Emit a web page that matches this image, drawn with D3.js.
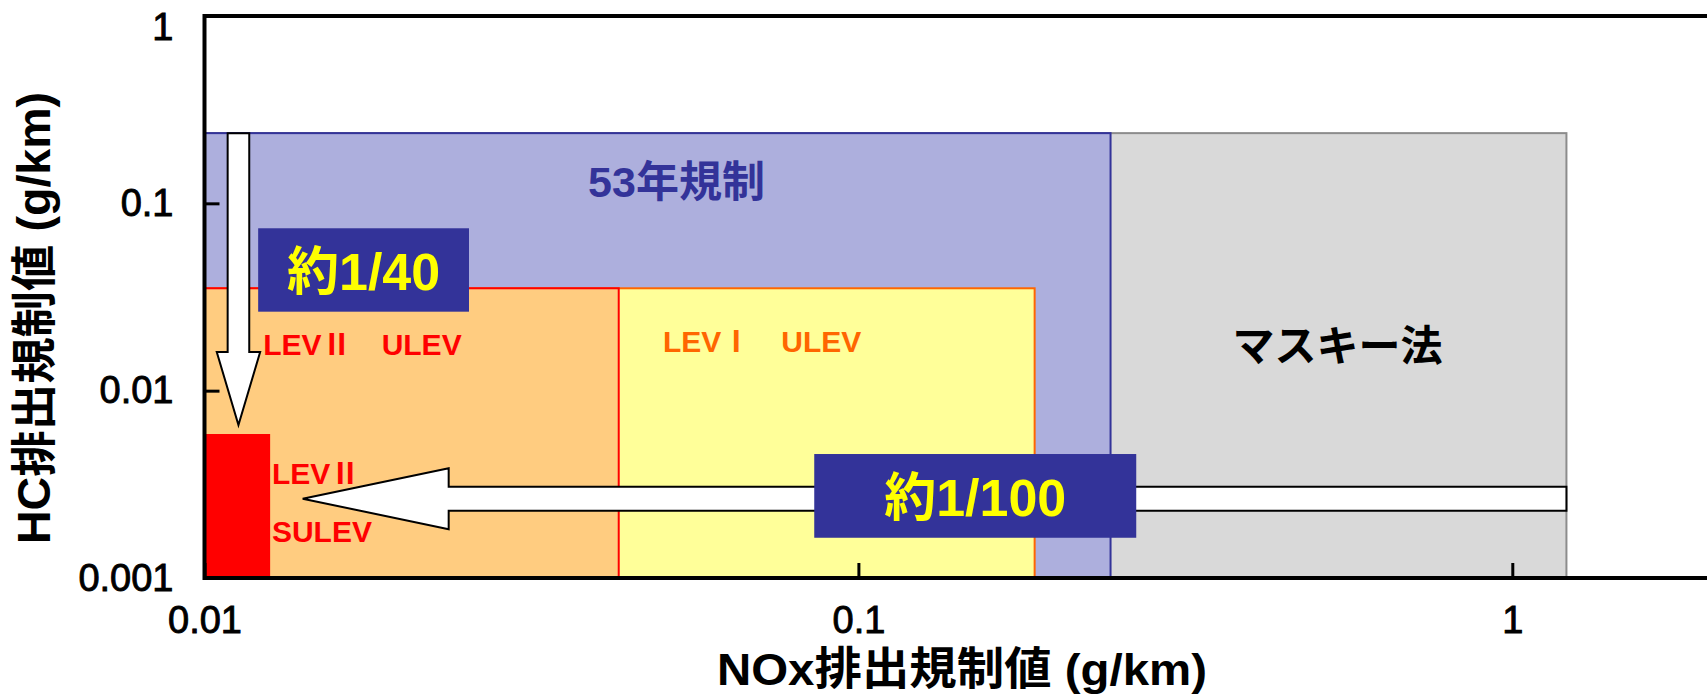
<!DOCTYPE html>
<html><head><meta charset="utf-8">
<script src="https://cdn.jsdelivr.net/npm/d3@7"></script>
<style>
html,body{margin:0;padding:0;background:#fff;overflow:hidden}
svg{display:block}
</style></head>
<body><svg id="c" width="1707" height="697"></svg>
<script>
// ---- data ----
const xTicks = [0.01, 0.1, 1];
const xTickLabels = ["0.01", "0.1", "1"];
const yTicks = [0.001, 0.01, 0.1, 1];
const yTickLabels = ["0.001", "0.01", "0.1", "1"];

// regulation limits (g/km): NOx upper bound, HC upper bound
const regNames = ["マスキー法", "53年規制", "LEVⅠ ULEV", "LEVⅡ ULEV", "LEVⅡ SULEV"];
const regNOx = [1.21, 0.243, 0.186, 0.043, 0.0126];
const regHC  = [0.237, 0.237, 0.0352, 0.0352, 0.00587];

// reduction arrows
const arrowV = {x: 0.01127, from: 0.237, to: 0.00656};
const arrowH = {y: 0.00265, from: 1.21, to: 0.01413};
const reductionLabels = ["約1/40", "約1/100"];
const reductionBoxX = [[0.01208, 0.02538], [0.0856, 0.266]];
const reductionBoxY = [[0.0264, 0.0736], [0.00164, 0.00459]];

// region labels
const regionLabels = ["マスキー法", "53年規制", "LEVⅠ　ULEV", "LEVⅡ　ULEV", "LEVⅡ", "SULEV"];
const regionLabelX = [0.5406, 0.0386, 0.05024, 0.0123, 0.01268, 0.01268];
const regionLabelY = [0.01797, 0.130, 0.01617, 0.0155, 0.00316, 0.001556];

// ---- styles ----
const regFill   = ["#D9D9D9", "#ADAFDD", "#FFFF99", "#FFCC80", "#FF0000"];
const regStroke = ["#8C8C8C", "#333399", "#FF6600", "#FF0000", "#FF0000"];
const labelColor = ["#000000", "#333399", "#FF6600", "#FF0000", "#FF0000", "#FF0000"];
const labelAnchor = ["middle", "start", "start", "start", "start", "start"];
const labelSize = [42, 43, 30, 30, 30, 30];
const latinFont = '"Liberation Sans","Noto Sans CJK JP", sans-serif';
const labelFont = ['"Noto Sans CJK JP", sans-serif', latinFont, latinFont, latinFont, latinFont, latinFont];

const svg = d3.select("#c");
const pLeft = 204.5, pBottom = 578, pTop = 16;
const decX = 653.9;
const x = d3.scaleLog().domain([0.01, 2]).range([pLeft, pLeft + decX * Math.log10(200)]);
const y = d3.scaleLog().domain([0.001, 1]).range([pBottom, pTop]);

// regulation boxes
const g = svg.append("g");
regNames.forEach((n, i) => {
  g.append("rect")
    .attr("x", x(0.01)).attr("y", y(regHC[i]))
    .attr("width", x(regNOx[i]) - x(0.01))
    .attr("height", y(0.001) - y(regHC[i]))
    .attr("fill", regFill[i])
    .attr("stroke", regStroke[i])
    .attr("stroke-width", i === 4 ? 0 : 2);
});

// arrows
const vx = x(arrowV.x), vTop = y(arrowV.from), vTip = y(arrowV.to);
const vShaft = 10.8, vHead = 21.7, vLen = 73;
svg.append("path")
  .attr("d", `M${vx - vShaft},${vTop} L${vx + vShaft},${vTop} L${vx + vShaft},${vTip - vLen} L${vx + vHead},${vTip - vLen} L${vx},${vTip} L${vx - vHead},${vTip - vLen} L${vx - vShaft},${vTip - vLen} Z`)
  .attr("fill", "#fff").attr("stroke", "#000").attr("stroke-width", 2);

const hy = y(arrowH.y), hStart = x(arrowH.from), hTip = x(arrowH.to);
const hShaft = 12, hHead = 30.5, hLen = 146;
svg.append("path")
  .attr("d", `M${hStart},${hy - hShaft} L${hTip + hLen},${hy - hShaft} L${hTip + hLen},${hy - hHead} L${hTip},${hy} L${hTip + hLen},${hy + hHead} L${hTip + hLen},${hy + hShaft} L${hStart},${hy + hShaft} Z`)
  .attr("fill", "#fff").attr("stroke", "#000").attr("stroke-width", 2);

// region labels
regionLabels.forEach((t, i) => {
  svg.append("text")
    .attr("x", x(regionLabelX[i])).attr("y", y(regionLabelY[i]))
    .attr("text-anchor", labelAnchor[i])
    .attr("dominant-baseline", (i < 2) ? "central" : "alphabetic")
    .attr("font-family", labelFont[i])
    .attr("font-weight", "bold")
    .attr("font-size", labelSize[i])
    .attr("fill", labelColor[i])
    .text(t);
});

// reduction boxes
reductionLabels.forEach((t, i) => {
  const x0 = x(reductionBoxX[i][0]), x1 = x(reductionBoxX[i][1]);
  const y0 = y(reductionBoxY[i][1]), y1 = y(reductionBoxY[i][0]);
  svg.append("rect").attr("x", x0).attr("y", y0).attr("width", x1 - x0).attr("height", y1 - y0)
    .attr("fill", "#333399");
  svg.append("text").attr("x", (x0 + x1) / 2).attr("y", (y0 + y1) / 2 + 2)
    .attr("text-anchor", "middle").attr("dominant-baseline", "central")
    .attr("font-family", latinFont)
    .attr("font-weight", "bold").attr("font-size", 52).attr("fill", "#FFFF00")
    .text(t);
});

// frame
svg.append("rect").attr("x", x.range()[0]).attr("y", pTop)
  .attr("width", x.range()[1] - x.range()[0]).attr("height", pBottom - pTop)
  .attr("fill", "none").attr("stroke", "#000").attr("stroke-width", 4);

// axes
const xAxis = d3.axisBottom(x).tickValues(xTicks).tickFormat((d, i) => xTickLabels[i])
  .tickSizeInner(-15).tickSizeOuter(0).tickPadding(28);
const gx = svg.append("g").attr("transform", `translate(0,${pBottom})`).call(xAxis);
gx.select(".domain").remove();
gx.selectAll(".tick line").attr("stroke", "#000").attr("stroke-width", 3);
gx.selectAll(".tick text").attr("font-family", '"Liberation Sans", sans-serif')
  .attr("font-size", 38).attr("fill", "#000").attr("stroke", "#000").attr("stroke-width", 0.9);

const yAxis = d3.axisLeft(y).tickValues(yTicks).tickFormat((d, i) => yTickLabels[i])
  .tickSizeInner(-15).tickSizeOuter(0).tickPadding(31);
const gy = svg.append("g").attr("transform", `translate(${pLeft},0)`).call(yAxis);
gy.select(".domain").remove();
gy.selectAll(".tick line").attr("stroke", "#000").attr("stroke-width", 3);
gy.selectAll(".tick text").attr("font-family", '"Liberation Sans", sans-serif')
  .attr("font-size", 38).attr("fill", "#000").attr("stroke", "#000").attr("stroke-width", 0.9)
  .attr("transform", d => d === 1 ? "translate(0,11)" : null);

// axis titles
svg.append("text").attr("x", 962).attr("y", 669)
  .attr("text-anchor", "middle").attr("dominant-baseline", "central")
  .attr("font-family", latinFont)
  .attr("font-weight", "bold").attr("font-size", 45)
  .attr("textLength", 490).attr("lengthAdjust", "spacingAndGlyphs")
  .text("NOx排出規制値 (g/km)");

svg.append("text").attr("transform", "translate(34,318) rotate(-90)")
  .attr("text-anchor", "middle").attr("dominant-baseline", "central")
  .attr("font-family", latinFont)
  .attr("font-weight", "bold").attr("font-size", 46)
  .attr("textLength", 452).attr("lengthAdjust", "spacingAndGlyphs")
  .text("HC排出規制値 (g/km)");
</script>
</body></html>
